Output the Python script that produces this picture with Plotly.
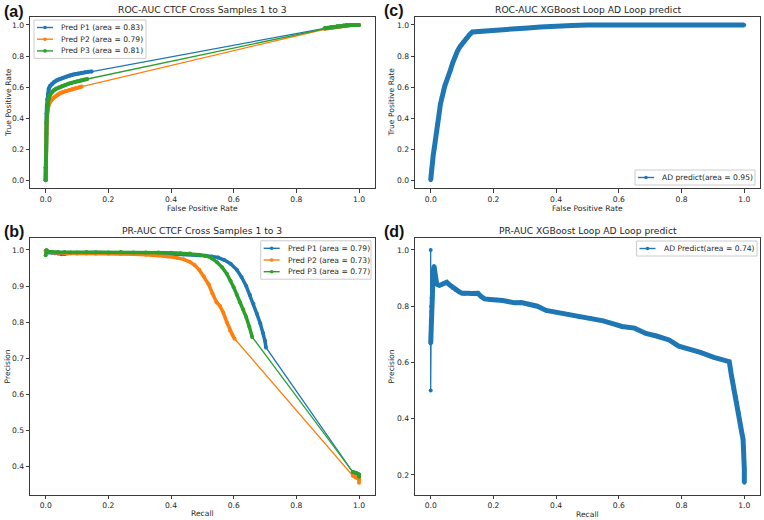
import plotly.graph_objects as go

# ---------------- data ----------------
# (a) ROC-AUC CTCF Cross Samples 1 to 3
roc_p1_fpr = [0.0, 0.0, 0.001, 0.001, 0.002, 0.002, 0.003, 0.004, 0.005, 0.007, 0.01, 0.014, 0.02, 0.027, 0.035,
              0.045, 0.055, 0.065, 0.075, 0.085, 0.095, 0.105, 0.115, 0.125, 0.135, 0.147,
              0.89, 0.91, 0.93, 0.95, 0.97, 0.99, 1.0]
roc_p1_tpr = [0.0, 0.08, 0.15, 0.22, 0.3, 0.37, 0.43, 0.48, 0.52, 0.555, 0.59, 0.607, 0.62, 0.632, 0.643,
              0.652, 0.66, 0.667, 0.673, 0.679, 0.684, 0.688, 0.692, 0.695, 0.698, 0.70,
              0.978, 0.984, 0.99, 0.995, 0.999, 1.0, 1.0]
roc_p2_fpr = [0.0, 0.0, 0.001, 0.001, 0.002, 0.003, 0.004, 0.006, 0.009, 0.013, 0.018, 0.024, 0.03, 0.038, 0.046,
              0.055, 0.065, 0.075, 0.085, 0.095, 0.105, 0.115,
              0.89, 0.91, 0.93, 0.95, 0.97, 1.0]
roc_p2_tpr = [0.0, 0.08, 0.15, 0.22, 0.3, 0.36, 0.41, 0.45, 0.48, 0.5, 0.515, 0.528, 0.538, 0.55, 0.56,
              0.567, 0.574, 0.581, 0.587, 0.593, 0.598, 0.603,
              0.975, 0.982, 0.988, 0.994, 0.999, 1.0]
roc_p3_fpr = [0.0, 0.0, 0.001, 0.001, 0.002, 0.003, 0.004, 0.006, 0.009, 0.013, 0.018, 0.025, 0.033, 0.042, 0.052,
              0.062, 0.072, 0.082, 0.092, 0.102, 0.112, 0.122, 0.133,
              0.89, 0.9, 0.91, 0.92, 0.93, 0.94, 0.95, 0.96, 0.977, 1.0]
roc_p3_tpr = [0.0, 0.08, 0.15, 0.22, 0.3, 0.37, 0.43, 0.48, 0.52, 0.548, 0.565, 0.578, 0.589, 0.598, 0.607,
              0.614, 0.621, 0.627, 0.633, 0.638, 0.643, 0.647, 0.652,
              0.979, 0.982, 0.985, 0.988, 0.991, 0.994, 0.996, 1.0, 1.0, 1.0]
roc_labels = ["Pred P1 (area = 0.83)", "Pred P2 (area = 0.79)", "Pred P3 (area = 0.81)"]

# (b) PR-AUC CTCF Cross Samples 1 to 3
pr_p1_recall = [0.0, 0.005, 0.01, 0.02, 0.03, 0.04, 0.05, 0.06, 0.08, 0.1, 0.13, 0.16, 0.2, 0.24, 0.28, 0.32,
                0.36, 0.4, 0.44, 0.48, 0.51, 0.53, 0.55, 0.57, 0.59, 0.61, 0.625, 0.64, 0.652, 0.663, 0.674,
                0.685, 0.694, 0.7, 0.703, 0.98, 0.99, 1.0, 1.0]
pr_p1_precision = [0.998, 0.995, 0.993, 0.992, 0.991, 0.99, 0.988, 0.989, 0.991, 0.992, 0.992, 0.993, 0.992,
                   0.992, 0.991, 0.99, 0.99, 0.989, 0.988, 0.986, 0.984, 0.982, 0.979, 0.972, 0.962, 0.945,
                   0.925, 0.9, 0.875, 0.851, 0.823, 0.796, 0.77, 0.748, 0.73, 0.385, 0.382, 0.378, 0.372]
pr_p2_recall = [0.0, 0.01, 0.02, 0.04, 0.06, 0.08, 0.1, 0.13, 0.16, 0.2, 0.24, 0.28, 0.32, 0.36, 0.39, 0.42,
                0.44, 0.46, 0.475, 0.49, 0.505, 0.52, 0.532, 0.545, 0.556, 0.567, 0.578, 0.588, 0.596, 0.603,
                0.98, 0.99, 1.0, 1.0]
pr_p2_precision = [0.997, 0.995, 0.993, 0.992, 0.991, 0.991, 0.99, 0.99, 0.99, 0.99, 0.989, 0.988, 0.987,
                   0.985, 0.982, 0.978, 0.974, 0.967, 0.958, 0.945, 0.927, 0.905, 0.88, 0.856, 0.845, 0.826,
                   0.8, 0.777, 0.765, 0.754, 0.375, 0.37, 0.365, 0.355]
pr_p3_recall = [0.0, 0.003, 0.006, 0.01, 0.02, 0.04, 0.06, 0.08, 0.1, 0.13, 0.16, 0.2, 0.24, 0.28, 0.32, 0.36,
                0.4, 0.43, 0.46, 0.49, 0.51, 0.53, 0.547, 0.563, 0.578, 0.59, 0.6, 0.61, 0.62, 0.63, 0.64,
                0.65, 0.659, 0.98, 0.99, 1.0, 1.0]
pr_p3_precision = [0.985, 1.0, 0.996, 0.995, 0.995, 0.994, 0.994, 0.993, 0.993, 0.994, 0.993, 0.993, 0.994,
                   0.993, 0.993, 0.993, 0.992, 0.991, 0.99, 0.987, 0.984, 0.977, 0.966, 0.952, 0.934, 0.915,
                   0.897, 0.876, 0.855, 0.836, 0.814, 0.787, 0.759, 0.385, 0.383, 0.378, 0.372]
pr_labels = ["Pred P1 (area = 0.79)", "Pred P2 (area = 0.73)", "Pred P3 (area = 0.77)"]

# (c) ROC-AUC XGBoost Loop AD Loop predict
ad_roc_fpr = [0.0, 0.001, 0.003, 0.005, 0.008, 0.011, 0.014, 0.018, 0.022, 0.027, 0.031, 0.035, 0.04, 0.045,
              0.05, 0.056, 0.063, 0.07, 0.077, 0.085, 0.094, 0.104, 0.114, 0.124, 0.133, 0.16, 0.2, 0.24,
              0.27, 0.31, 0.35, 0.4, 0.45, 0.5, 0.55, 0.6, 0.65, 0.7, 0.75, 0.8, 0.85, 0.9, 0.95, 1.0]
ad_roc_tpr = [0.0, 0.03, 0.07, 0.11, 0.16, 0.2, 0.236, 0.3, 0.36, 0.43, 0.49, 0.536, 0.575, 0.607,
              0.636, 0.665, 0.71, 0.755, 0.794, 0.83, 0.862, 0.89, 0.915, 0.937, 0.955, 0.96, 0.966, 0.972,
              0.976, 0.981, 0.987, 0.994, 0.997, 0.999, 1.0, 1.0, 1.0, 1.0, 1.0, 1.0, 1.0, 1.0, 1.0, 1.0]
ad_roc_label = "AD predict(area = 0.95)"

# (d) PR-AUC XGBoost Loop AD Loop predict
ad_pr_recall = [0.0, 0.0, 0.0, 0.001, 0.001, 0.002, 0.002, 0.003, 0.004, 0.005, 0.006, 0.008, 0.0105, 0.012,
                0.014, 0.016, 0.019, 0.023, 0.028, 0.035, 0.042, 0.051, 0.06, 0.07, 0.08, 0.09, 0.1, 0.109,
                0.12, 0.13, 0.14, 0.151, 0.16, 0.172, 0.19, 0.21, 0.23, 0.25, 0.268, 0.289, 0.31, 0.34,
                0.368, 0.4, 0.44, 0.474, 0.51, 0.55, 0.58, 0.61, 0.65, 0.686, 0.72, 0.76, 0.791, 0.824,
                0.86, 0.903, 0.93, 0.952, 0.958, 0.966, 0.972, 0.977, 0.982, 0.987, 0.992, 0.996, 0.998,
                0.999, 1.0, 1.0]
ad_pr_precision = [1.0, 0.5, 0.667, 0.7, 0.75, 0.78, 0.8, 0.83, 0.86, 0.88, 0.9, 0.92, 0.943, 0.93, 0.91,
                   0.895, 0.879, 0.876, 0.874, 0.877, 0.882, 0.885, 0.876, 0.866, 0.858, 0.852, 0.846, 0.844,
                   0.846, 0.845, 0.846, 0.846, 0.835, 0.826, 0.824, 0.823, 0.82, 0.816, 0.812, 0.813, 0.807,
                   0.8, 0.785, 0.779, 0.77, 0.761, 0.758, 0.748, 0.738, 0.728, 0.722, 0.703, 0.694, 0.68,
                   0.658, 0.648, 0.636, 0.618, 0.61, 0.603, 0.56, 0.505, 0.48, 0.456, 0.42, 0.385, 0.35,
                   0.327, 0.3, 0.26, 0.22, 0.172]
ad_pr_label = "AD Predict(area = 0.74)"

panel_titles = ["ROC-AUC CTCF Cross Samples 1 to 3", "PR-AUC CTCF Cross Samples 1 to 3",
                "ROC-AUC XGBoost Loop AD Loop predict", "PR-AUC XGBoost Loop AD Loop predict"]
panel_letters = ["(a)", "(b)", "(c)", "(d)"]

# ---------------- styling ----------------
W, H = 764, 520
BLUE, ORANGE, GREEN = "#1f77b4", "#ff7f0e", "#2ca02c"
FONT = "DejaVu Sans"
TXT = "#262626"


def fx(p):
    return p / W


def fy(p):
    return 1 - p / H


fig = go.Figure()


def thick_segments(xs, ys, gap=0.15):
    ox, oy = [xs[0]], [ys[0]]
    for i in range(1, len(xs)):
        if abs(xs[i] - xs[i - 1]) > gap or abs(ys[i] - ys[i - 1]) > gap:
            ox.append(None)
            oy.append(None)
        ox.append(xs[i])
        oy.append(ys[i])
    return ox, oy


def add_series(xs, ys, color, name, xa, ya, thick):
    tx, ty = thick_segments(xs, ys)
    fig.add_trace(go.Scatter(x=tx, y=ty, mode="lines", line=dict(color=color, width=thick),
                             xaxis=xa, yaxis=ya, showlegend=False, hoverinfo="skip",
                             connectgaps=False))
    fig.add_trace(go.Scatter(x=xs, y=ys, mode="lines+markers", name=name,
                             line=dict(color=color, width=1.3),
                             marker=dict(color=color, size=4),
                             xaxis=xa, yaxis=ya, showlegend=False))


roc_series = [(roc_p1_fpr, roc_p1_tpr, BLUE), (roc_p2_fpr, roc_p2_tpr, ORANGE), (roc_p3_fpr, roc_p3_tpr, GREEN)]
pr_series = [(pr_p1_recall, pr_p1_precision, BLUE), (pr_p2_recall, pr_p2_precision, ORANGE),
             (pr_p3_recall, pr_p3_precision, GREEN)]
for (xs, ys, c), lab in zip(roc_series, roc_labels):
    add_series(xs, ys, c, lab, "x", "y", 4)
for (xs, ys, c), lab in zip(pr_series, pr_labels):
    add_series(xs, ys, c, lab, "x2", "y2", 3.5)
add_series(ad_roc_fpr, ad_roc_tpr, BLUE, ad_roc_label, "x3", "y3", 5)
add_series(ad_pr_recall, ad_pr_precision, BLUE, ad_pr_label, "x4", "y4", 5)


def padded(vals):
    lo, hi = min(vals), max(vals)
    m = 0.05 * (hi - lo)
    return [lo - m, hi + m]


all_pr = pr_p1_precision + pr_p2_precision + pr_p3_precision

# axes geometry in pixels (left, right, top, bottom)
LEFT = (30, 374.7)
RIGHT = (415, 760)
TOP = (17.2, 188)
BOT = (238.3, 494.5)

axis_common = dict(showgrid=False, zeroline=False, showline=True, mirror=True, linecolor="#3a3a3a",
                   linewidth=1, ticks="outside", ticklen=3.5, tickwidth=1, tickcolor="#3a3a3a",
                   tickfont=dict(family=FONT, size=7.6, color=TXT), tickformat=".1f")

xticks = [0.0, 0.2, 0.4, 0.6, 0.8, 1.0]
specs = [
    ("x", "y", LEFT, TOP, [-0.05, 1.05], [-0.05, 1.05], [0.0, 0.2, 0.4, 0.6, 0.8, 1.0]),
    ("x2", "y2", LEFT, BOT, [-0.05, 1.05], padded(all_pr), [0.4, 0.5, 0.6, 0.7, 0.8, 0.9, 1.0]),
    ("x3", "y3", RIGHT, TOP, [-0.05, 1.05], [-0.05, 1.05], [0.0, 0.2, 0.4, 0.6, 0.8, 1.0]),
    ("x4", "y4", RIGHT, BOT, [-0.05, 1.05], padded(ad_pr_precision), [0.2, 0.4, 0.6, 0.8, 1.0]),
]
layout_axes = {}
for xa, ya, (l, r), (t, b), xr, yr, yt in specs:
    xk = "xaxis" + xa[1:]
    yk = "yaxis" + ya[1:]
    layout_axes[xk] = dict(axis_common, domain=[fx(l), fx(r)], range=xr, anchor=ya, tickvals=xticks)
    layout_axes[yk] = dict(axis_common, domain=[fy(b), fy(t)], range=yr, anchor=xa, tickvals=yt)

annotations = []


def text(x, y, s, size, **kw):
    d = dict(x=fx(x), y=fy(y), xref="paper", yref="paper", text=s, showarrow=False,
             font=dict(family=kw.pop("family", FONT), size=size, color=kw.pop("color", TXT)),
             xanchor=kw.pop("xanchor", "center"), yanchor=kw.pop("yanchor", "middle"))
    d.update(kw)
    annotations.append(d)


# titles
lc = (LEFT[0] + LEFT[1]) / 2
rc = (RIGHT[0] + RIGHT[1]) / 2
text(lc, 9.5, panel_titles[0], 9.2)
text(lc, 230, panel_titles[1], 9.2)
text(rc, 9.5, panel_titles[2], 9.2)
text(rc, 230, panel_titles[3], 9.2)
# panel letters
for (x, y), s in zip([(2, 11.5), (2, 231), (382, 10.5), (382, 231)], panel_letters):
    text(x, y, "<b>" + s + "</b>", 16, family="Liberation Sans", color="#111", xanchor="left")
# axis labels
text(lc, 208.5, "False Positive Rate", 7.6)
text(rc, 208.5, "False Positive Rate", 7.6)
text(lc, 513.5, "Recall", 7.6)
text(rc, 514, "Recall", 7.6)
text(8.5, (TOP[0] + TOP[1]) / 2, "True Positive Rate", 7.6, textangle=-90)
text(392, (TOP[0] + TOP[1]) / 2, "True Positive Rate", 7.6, textangle=-90)
text(7, (BOT[0] + BOT[1]) / 2, "Precision", 7.6, textangle=-90)
text(391, (BOT[0] + BOT[1]) / 2, "Precision", 7.6, textangle=-90)

shapes = []
ROW = 11.7


def legend(left, top, width, labels, colors):
    n = len(labels)
    h = (n - 1) * ROW + 15
    shapes.append(dict(type="rect", xref="paper", yref="paper", x0=fx(left), x1=fx(left + width),
                       y0=fy(top + h), y1=fy(top), line=dict(color="#cccccc", width=1),
                       fillcolor="rgba(255,255,255,0.85)", layer="above"))
    for i, (lab, col) in enumerate(zip(labels, colors)):
        yc = top + 7.5 + i * ROW
        h0, h1 = left + 3, left + 19
        shapes.append(dict(type="line", xref="paper", yref="paper", x0=fx(h0), x1=fx(h1),
                           y0=fy(yc), y1=fy(yc), line=dict(color=col, width=1.4), layer="above"))
        cx = (h0 + h1) / 2
        shapes.append(dict(type="circle", xref="paper", yref="paper", x0=fx(cx - 1.8), x1=fx(cx + 1.8),
                           y0=fy(yc + 1.8), y1=fy(yc - 1.8), line=dict(color=col, width=0),
                           fillcolor=col, layer="above"))
        text(h1 + 6, yc, lab, 7.6, xanchor="left")


legend(34, 20, 112, roc_labels, [BLUE, ORANGE, GREEN])
legend(260.7, 240.8, 110.3, pr_labels, [BLUE, ORANGE, GREEN])
legend(635, 170, 120, [ad_roc_label], [BLUE])
legend(636.5, 241, 120.5, [ad_pr_label], [BLUE])

fig.update_layout(width=W, height=H, margin=dict(l=0, r=0, t=0, b=0), paper_bgcolor="white",
                  plot_bgcolor="white", showlegend=False, annotations=annotations, shapes=shapes,
                  font=dict(family=FONT, color=TXT), **layout_axes)

fig.write_html("out.html")
